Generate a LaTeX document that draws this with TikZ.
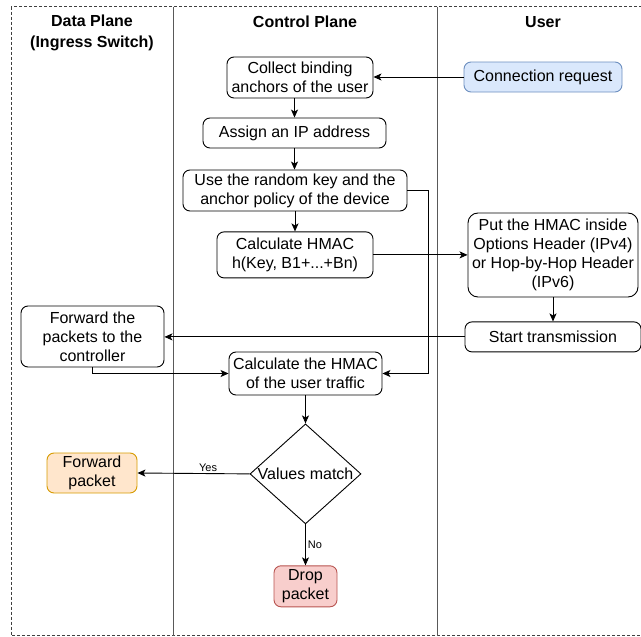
\documentclass[tikz,border=0pt]{standalone}
\usepackage{fontspec}
\setmainfont{Liberation Sans}
\usepackage{xcolor}
\definecolor{reqfill}{HTML}{DAE8FC}
\definecolor{reqline}{HTML}{6C8EBF}
\definecolor{okfill}{HTML}{FFE6CC}
\definecolor{okline}{HTML}{D79B00}
\definecolor{dropfill}{HTML}{F8CECC}
\definecolor{dropline}{HTML}{B85450}
\usepackage{tikz}
\usetikzlibrary{positioning,shapes.geometric,arrows.meta}
\tikzset{
    proc/.style={
    rectangle,rounded corners=7pt,draw=black,line width=0.9pt,align=center,inner sep=2pt,
    font=\fontsize{16}{19}\selectfont
    },
    request/.style={
    proc,draw=reqline,fill=reqfill
    },
    passed/.style={
    proc,draw=okline,fill=okfill
    },
    dropped/.style={
    proc,draw=dropline,fill=dropfill
    },
    decision/.style={diamond,draw=black,line width=0.9pt,aspect=1.11,inner xsep=-2pt,inner ysep=0pt,
      minimum width=111pt,minimum height=100pt,font=\fontsize{16}{19}\selectfont},
    lanehead/.style={align=center,font=\fontsize{16}{21}\selectfont\bfseries},
    lane/.style={draw=black!65,line width=0.9pt},
    planeframe/.style={draw=black!75,line width=0.9pt,dash pattern=on 3pt off 2pt},
  flow/.style={draw, line width=0.9pt, -{Stealth[length=8pt,width=7pt,inset=2pt]}},
  tag/.style={font=\fontsize{11}{13}\selectfont,inner sep=2pt},
}

\begin{document}
\begin{tikzpicture}[x=1pt,y=-1pt]
\def \ytop {6.5}
\def \ybot {635.5}
\useasboundingbox (0,0) rectangle (641,637);

  % swim lanes
  \path[planeframe] (11,\ytop) rectangle (650,\ybot);
  \path[lane] (173,\ytop) -- (173,\ybot);
  \path[lane] (437,\ytop) -- (437,\ybot);
  \node[lanehead] (dphead) at (92,32.5) {Data Plane\\(Ingress Switch)};
  \node[lanehead] (cphead) at (305,22) {Control Plane};
  \node[lanehead] (userhead) at (543,22) {User};

  % control plane
  \node[proc,minimum width=146pt,minimum height=41pt] (collect) at (300,77.5) {Collect binding\\anchors of the user};
  \node[proc,minimum width=183pt,minimum height=30pt] (assign) at (294.5,133) {Assign an IP address};
  \node[proc,minimum width=224pt,minimum height=41pt] (policy) at (295,190.5) {Use the random key and the\\anchor policy of the device};
  \node[proc,minimum width=156pt,minimum height=46pt,below=20pt of policy] (hmac) {Calculate HMAC\\h(Key, B1+...+Bn)};
  \node[proc,minimum width=153pt,minimum height=43pt] (verify) at (305.5,373.5) {Calculate the HMAC\\of the user traffic};
  \node[decision,below=28pt of verify] (match) {Values match};
  \node[dropped,minimum width=63pt,minimum height=41pt,below=41pt of match] (drop) {Drop\\packet};

  % user
  \node[request,minimum width=158pt,minimum height=30pt] (conn) at (543,77) {Connection request};
  \node[proc,rounded corners=10pt,minimum width=170pt,minimum height=84pt] (insert) at (553,255) {Put the HMAC inside\\Options Header (IPv4)\\or Hop-by-Hop Header\\(IPv6)};
  \node[proc,minimum width=176pt,minimum height=30pt,below=24pt of insert] (start) {Start transmission};

  % data plane
  \node[proc,minimum width=143pt,minimum height=61pt] (tocontrol) at (92.5,336.5) {Forward the\\packets to the\\controller};
  \node[passed,minimum width=90pt,minimum height=40pt] (forward) at (92,473) {Forward\\packet};

  \path[flow] (conn.west) -- (conn.west -| collect.east);
  \path[flow] (assign.north |- collect.south) -- (assign.north);
  \path[flow] (assign.south) -- (assign.south |- policy.north);
  \path[flow] (policy) -- (hmac);
  \path[flow] (policy.east) -- ++(21,0) |- (verify.east);
  \path[flow] (hmac.east) -- (hmac.east -| insert.west);
  \path[flow] (insert.south) -- (insert.south |- start.north);
  \path[flow] (start.west) -- (start.west -| tocontrol.east);
  \path[flow] (tocontrol.south) |- (verify.west);
  \path[flow] (verify) -- (match);
  \path[flow] (match.west) -- node[tag,above,pos=0.37] {Yes} (forward.east);
  \path[flow] (match.south) -- node[tag,right] {No} (drop.north);
\end{tikzpicture}
\end{document}
